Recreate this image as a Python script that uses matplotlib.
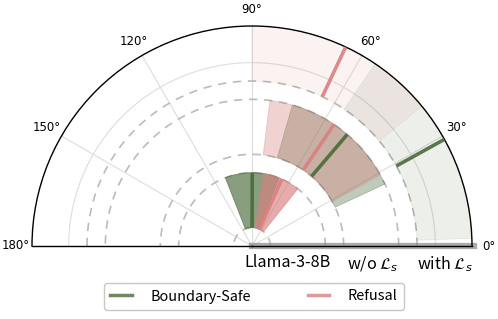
import numpy as np
import matplotlib
matplotlib.use("Agg")
import matplotlib.pyplot as plt
from matplotlib.lines import Line2D

GREEN = "#4a6b3a"
RED = "#d98080"

# three concentric rings, inner to outer
models = ["Llama-3-8B", r"w/o $\mathcal{L}_s$", r"with $\mathcal{L}_s$"]
ring_bottom = [1, 5, 9]
ring_height = 3
ring_alpha = [0.65, 0.35, 0.10]
label_r = [1.95, 6.6, 10.5]

# angles in degrees: centre and half spread of each wedge
safe_mean = [89.8, 49.5, 29.0]
safe_spread = [21.5, 24.5, 27.0]
refusal_mean = [66.0, 56.0, 64.8]
refusal_spread = [14.7, 27.0, 25.3]

TEXT_FONT = ["Noto Sans CJK SC", "DejaVu Sans"]


def plot():
    fig = plt.figure(figsize=(4.98, 3.19), dpi=100)
    # polar axes keep a square box, the half disc sits in its middle
    ax = fig.add_axes([32 / 498, -37 / 319, 440 / 498, 440 / 319],
                      projection="polar")
    ax.set_thetamin(0)
    ax.set_thetamax(180)
    ax.set_ylim(0, 12)
    ax.set_axisbelow(True)

    ax.set_xticks(np.deg2rad(np.arange(0, 181, 30)))
    ax.set_xticklabels([f"{d}°" for d in range(0, 181, 30)], fontsize=8.5)
    ax.tick_params(axis="x", pad=1.5)
    ax.set_yticks([10])
    ax.set_yticklabels([])
    ax.grid(color="#dddddd", linewidth=0.8)
    for s in ax.spines.values():
        s.set_linewidth(1.0)
        s.set_color("black")

    # dashed ring boundaries
    th = np.linspace(0, np.pi, 400)
    for r in [1, 4, 5, 8, 9]:
        ax.plot(th, np.full_like(th, r), ls=(0, (5, 4)), color="#bbbbbb",
                lw=1.2, zorder=0.8)

    for i in range(len(models)):
        b = ring_bottom[i]
        a = ring_alpha[i]
        ax.bar(np.deg2rad(safe_mean[i]), ring_height,
               width=np.deg2rad(2 * safe_spread[i]), bottom=b,
               color=GREEN, alpha=a, edgecolor=GREEN, linewidth=0.6,
               zorder=1)
        ax.bar(np.deg2rad(refusal_mean[i]), ring_height,
               width=np.deg2rad(2 * refusal_spread[i]), bottom=b,
               color=RED, alpha=a, edgecolor=RED, linewidth=0.6,
               zorder=1.1)
        ax.plot([np.deg2rad(safe_mean[i])] * 2, [b, b + ring_height],
                color=GREEN, lw=2.6, alpha=0.9, solid_capstyle="butt",
                zorder=3)
        ax.plot([np.deg2rad(refusal_mean[i])] * 2, [b, b + ring_height],
                color=RED, lw=2.6, alpha=0.9, solid_capstyle="butt",
                zorder=3)
        ax.annotate(models[i], xy=(0, label_r[i]), xytext=(0, -6),
                    textcoords="offset points", ha="center", va="top",
                    fontsize=11.6, family=TEXT_FONT, fontweight="light",
                    annotation_clip=False)

    # grey bar along the 0 degree axis
    ax.plot([0, 0], [0, 12.1], color="#888888", lw=4.5, alpha=0.7,
            clip_on=False, zorder=2.4, solid_capstyle="projecting")

    handles = [Line2D([], [], color=GREEN, lw=2.5, alpha=0.8),
               Line2D([], [], color=RED, lw=2.5, alpha=0.8)]
    fig.legend(handles, ["Boundary-Safe", "Refusal"], loc="upper center",
               bbox_to_anchor=(254 / 498, 1 - 283 / 319), ncol=2,
               frameon=True,
               prop={"family": TEXT_FONT, "size": 10.4, "weight": "light"},
               handlelength=1.5, handletextpad=1.3, columnspacing=3.9,
               edgecolor="#bbbbbb", fancybox=True, borderpad=0.45,
               borderaxespad=0)

    fig.savefig("out.png", dpi=100, facecolor="white")
    plt.close(fig)


if __name__ == "__main__":
    plot()
